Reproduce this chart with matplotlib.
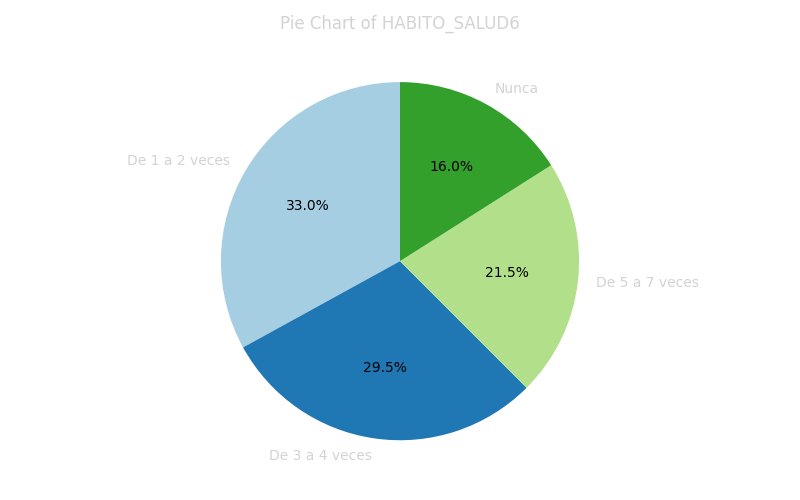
import matplotlib
matplotlib.use("Agg")
import matplotlib.pyplot as plt

# slice data, in drawing order (counterclockwise from the top)
labels = ["De 1 a 2 veces", "De 3 a 4 veces", "De 5 a 7 veces", "Nunca"]
shares = [33.0, 29.5, 21.5, 16.0]
colors = ["#a6cee3", "#1f78b4", "#b2df8a", "#33a02c"]

fig, ax = plt.subplots(figsize=(8, 5), dpi=100)
wedges, texts, autotexts = ax.pie(shares, labels=labels, colors=colors,
    autopct="%1.1f%%", startangle=90, textprops={"color": "lightgray"})
for t in autotexts:
    t.set_color("black")
ax.set_title("Pie Chart of HABITO_SALUD6", color="lightgray")
fig.tight_layout()

fig.savefig("out.png")
